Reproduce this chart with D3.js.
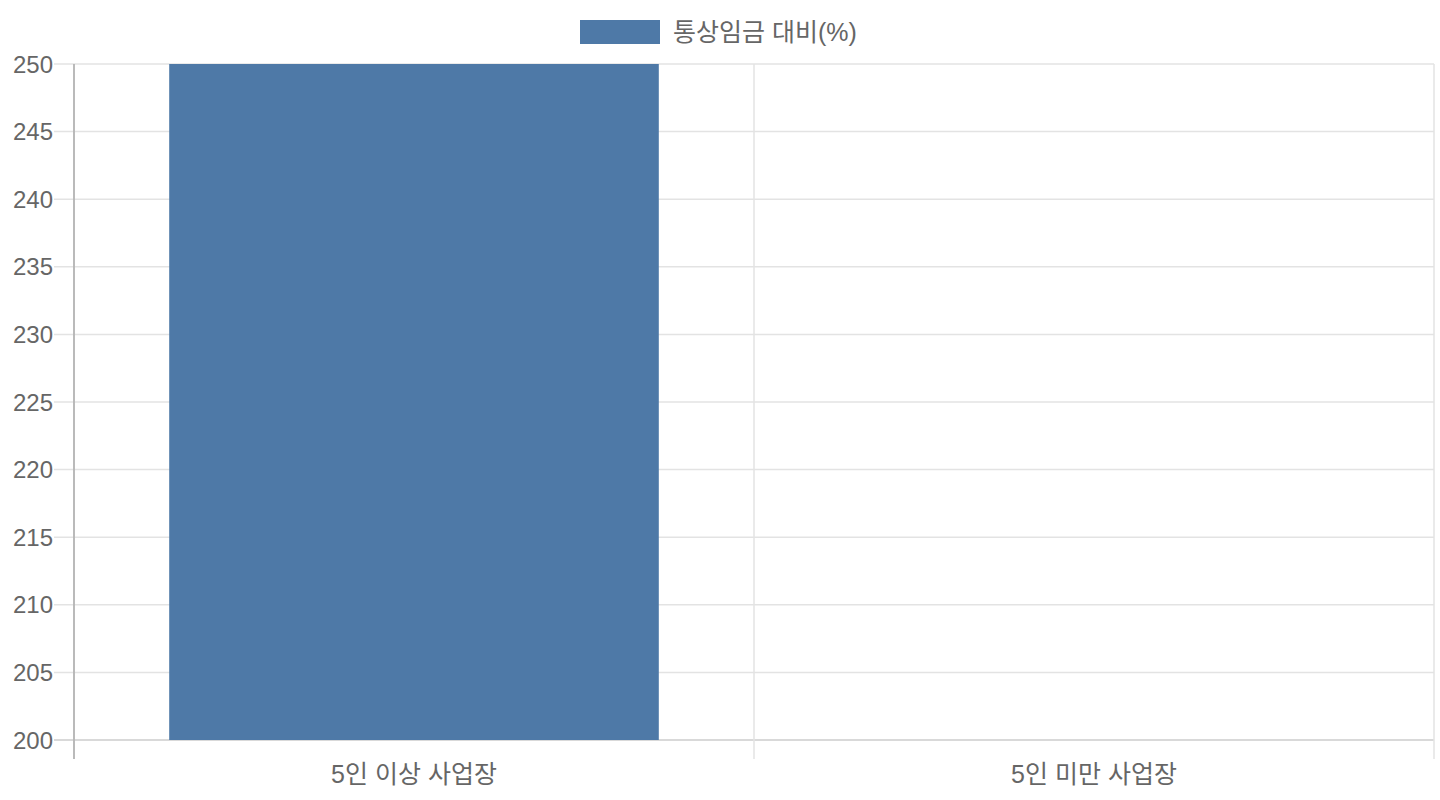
<!DOCTYPE html>
<html>
<head>
<meta charset="utf-8">
<script src="https://cdn.jsdelivr.net/npm/d3@7"></script>
<style>
  body { margin: 0; background: #fff; }
  text { font-family: "Liberation Sans", "Noto Sans CJK KR", sans-serif; fill: #666; }
</style>
</head>
<body>
<script>
var categories = ["5인 이상 사업장", "5인 미만 사업장"];
var values = [250, 150];
var seriesName = "통상임금 대비(%)";
var yTicks = [200, 205, 210, 215, 220, 225, 230, 235, 240, 245, 250];

var svgWidth = 1440;
var svgHeight = 800;
var margin = { top: 64, right: 6, bottom: 60, left: 74 };
var width = svgWidth - margin.left - margin.right;
var height = svgHeight - margin.top - margin.bottom;

var svg = d3.select("body")
  .append("svg")
  .attr("width", svgWidth)
  .attr("height", svgHeight);

var chartGroup = svg.append("g")
  .attr("transform", `translate(${margin.left}, ${margin.top})`);

var xScale = d3.scaleBand().domain(categories).range([0, width]);
var yScale = d3.scaleLinear().domain([200, 250]).range([height, 0]);

// horizontal grid + tick marks
chartGroup.selectAll(".hgrid")
  .data(yTicks)
  .enter()
  .append("line")
  .attr("x1", -20)
  .attr("x2", width)
  .attr("y1", d => yScale(d))
  .attr("y2", d => yScale(d))
  .attr("stroke", d => d === 200 ? "#cccccc" : "#e3e3e3")
  .attr("stroke-width", 1.5);

// vertical grid at category boundaries
var bounds = categories.map(c => xScale(c)).concat([width]);
chartGroup.selectAll(".vgrid")
  .data(bounds)
  .enter()
  .append("line")
  .attr("x1", d => d)
  .attr("x2", d => d)
  .attr("y1", 0)
  .attr("y2", height + 19)
  .attr("stroke", "#e3e3e3")
  .attr("stroke-width", 1.5);

// y axis line
chartGroup.append("line")
  .attr("x1", 0).attr("x2", 0)
  .attr("y1", 0).attr("y2", height + 19)
  .attr("stroke", "#aaaaaa")
  .attr("stroke-width", 1.5);

// bars, clipped to plot area
chartGroup.append("clipPath")
  .attr("id", "plotClip")
  .append("rect")
  .attr("width", width)
  .attr("height", height);

var barWidth = xScale.bandwidth() * 0.72;
chartGroup.append("g")
  .attr("clip-path", "url(#plotClip)")
  .selectAll("rect")
  .data(values)
  .enter()
  .append("rect")
  .attr("x", (d, i) => xScale(categories[i]) + (xScale.bandwidth() - barWidth) / 2)
  .attr("y", d => yScale(Math.max(d, 200)))
  .attr("width", barWidth)
  .attr("height", d => Math.max(0, yScale(200) - yScale(d)))
  .attr("fill", "#4e79a7");

// y labels
chartGroup.selectAll(".ylabel")
  .data(yTicks)
  .enter()
  .append("text")
  .attr("x", -21)
  .attr("y", d => yScale(d))
  .attr("dy", "0.36em")
  .attr("text-anchor", "end")
  .style("font-size", "24px")
  .text(d => d);

// x labels
chartGroup.selectAll(".xlabel")
  .data(categories)
  .enter()
  .append("text")
  .attr("x", d => xScale(d) + xScale.bandwidth() / 2)
  .attr("y", height + 34)
  .attr("dy", "0.36em")
  .attr("text-anchor", "middle")
  .style("font-size", "25px")
  .text(d => d);

// legend
var legend = svg.append("g");
legend.append("rect")
  .attr("x", 580).attr("y", 20)
  .attr("width", 80).attr("height", 24)
  .attr("fill", "#4e79a7");
legend.append("text")
  .attr("x", 673).attr("y", 32)
  .attr("dy", "0.36em")
  .style("font-size", "25px")
  .text(seriesName);
</script>
</body>
</html>
